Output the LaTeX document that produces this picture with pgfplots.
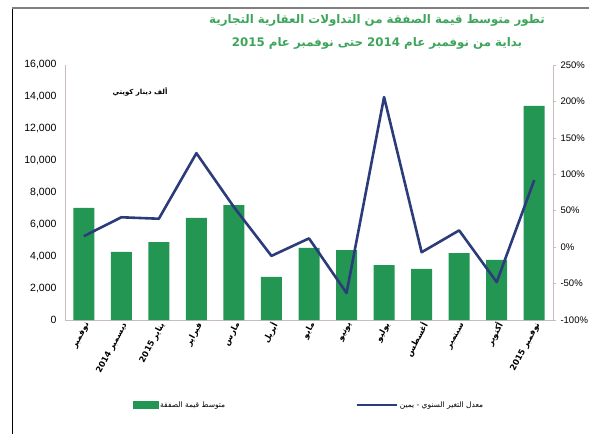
\documentclass[border=0pt]{standalone}
\usepackage{pgfplots}
\pgfplotsset{compat=1.18}
\usepackage{fontspec}
\setmainfont{Liberation Sans}
\TeXXeTstate=1
\newfontfamily\arabicfont[Script=Arabic]{DejaVu Sans}
\definecolor{barGreen}{RGB}{36,150,84}
\definecolor{lineBlue}{RGB}{44,60,122}
\definecolor{titleGreen}{RGB}{60,165,90}
\definecolor{axisGray}{RGB}{200,188,188}
\newcommand{\ar}[1]{{\arabicfont\beginR #1\endR}}

\pgfplotstableread{
x avg chg
0 7030 15
1 4270 41
2 4890 39
3 6400 129
4 7210 55
5 2700 -12
6 4520 12
7 4390 -63
8 3450 206
9 3200 -7
10 4200 23
11 3770 -48
12 13430 92
}\datatable

\begin{document}
\begin{tikzpicture}[x=1pt,y=1pt]
\useasboundingbox (0,0) rectangle (589,434);
% frame of the clipping
\draw[black, line width=1pt] (12,0) -- (12,426);
\draw[gray, line width=1.2pt] (12,426) -- (589,426);
% title
\node[text=titleGreen, font=\arabicfont\bfseries\fontsize{11.8}{13}\selectfont] at (377,414) {\ar{تطور متوسط قيمة الصفقة من التداولات العقارية التجارية}};
\node[text=titleGreen, font=\arabicfont\bfseries\fontsize{11.8}{13}\selectfont] at (377,391) {\ar{بداية من نوفمبر عام \beginL2014\endL{} حتى نوفمبر عام \beginL2015\endL}};
\node[font=\arabicfont\bfseries\fontsize{7}{8}\selectfont] at (140,342) {\ar{ألف دينار كويتي}};

\begin{axis}[
  at={(65pt,114pt)}, anchor=south west,
  scale only axis, width=488pt, height=255pt,
  xmin=-0.5, xmax=12.5, ymin=0, ymax=16000,
  axis x line*=bottom, axis y line*=left,
  axis line style={axisGray, line width=0.8pt},
  major tick length=0pt,
  xtick={0,...,12},
  xticklabels={
    \ar{نوفمبر},
    \ar{ديسمبر \beginL2014\endL},
    \ar{يناير \beginL2015\endL},
    \ar{فبراير},
    \ar{مارس},
    \ar{أبريل},
    \ar{مايو},
    \ar{يونيو},
    \ar{يوليو},
    \ar{أغسطس},
    \ar{سبتمبر},
    \ar{أكتوبر},
    \ar{نوفمبر \beginL2015\endL}},
  xticklabel style={rotate=62, anchor=east, font=\arabicfont\bfseries\fontsize{8.3}{9}\selectfont, inner sep=1pt, yshift=-5pt},
  ytick={0,2000,...,16000},
  scaled y ticks=false,
  /pgf/number format/1000 sep={,},
  /pgf/number format/assume math mode=true,
  yticklabel style={font=\fontsize{10.5}{11}\selectfont, xshift=-5pt},
]
\addplot[ybar, bar width=21pt, fill=barGreen, draw=none] table[x=x, y=avg] {\datatable};
\end{axis}

\begin{axis}[
  at={(65pt,114pt)}, anchor=south west,
  scale only axis, width=488pt, height=255pt,
  xmin=-0.5, xmax=12.5, ymin=-100, ymax=250,
  axis x line=none, axis y line*=right,
  axis line style={axisGray, line width=0.8pt},
  tick style={axisGray, line width=0.6pt},
  tick align=outside, major tick length=3pt,
  ytick={-100,-50,...,250},
  /pgf/number format/assume math mode=true,
  yticklabel={\pgfmathprintnumber{\tick}\%},
  yticklabel style={font=\fontsize{9.5}{10}\selectfont, xshift=1pt},
  legend style={at={(0.5,-0.333)}, anchor=center, draw=none, fill=none,
    legend columns=2, font=\arabicfont\fontsize{7.5}{9}\selectfont,
    /tikz/every even column/.append style={column sep=128pt}},
]
\addlegendimage{legend image code/.code={\fill[barGreen] (0pt,-3.5pt) rectangle (25pt,3.5pt);}}
\addlegendentry{\ar{متوسط قيمة الصفقة}}
\addplot[lineBlue, line width=2.6pt, line join=round, no markers,
  legend image code/.code={\draw[lineBlue, line width=2.6pt] (0pt,0pt) -- (40pt,0pt);}]
  table[x=x, y=chg] {\datatable};
\addlegendentry{\ar{معدل التغير السنوي - يمين}}
\end{axis}
\end{tikzpicture}
\end{document}
